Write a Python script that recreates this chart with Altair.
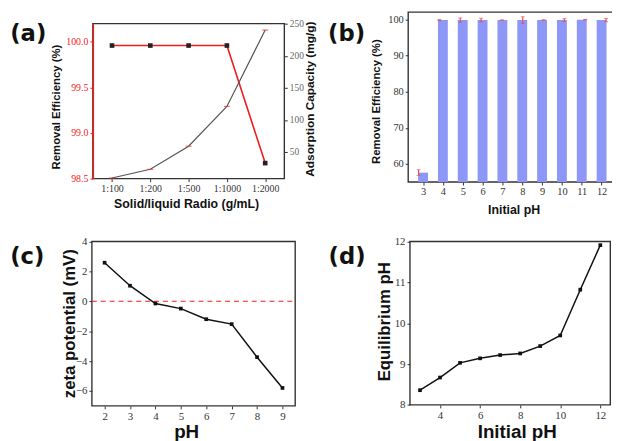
import altair as alt
import pandas as pd

W, H = 612, 433

# ---------------- data ----------------
ratios = ["1:100", "1:200", "1:500", "1:1000", "1:2000"]
eff_a = [99.96, 99.96, 99.96, 99.96, 98.67]
cap_a = [9.5, 23, 59, 121, 240]

ph_b = [3, 4, 5, 6, 7, 8, 9, 10, 11, 12]
eff_b = [57.6, 99.8, 99.8, 99.8, 99.8, 99.8, 99.8, 99.8, 99.9, 99.8]
err_b = [0.8, 0.15, 0.6, 0.5, 0.05, 0.9, 0.1, 0.4, 0.1, 0.45]

ph_c = [2, 3, 4, 5, 6, 7, 8, 9]
zeta_c = [2.58, 1.04, -0.15, -0.49, -1.2, -1.53, -3.74, -5.8]

ph_d = [3, 4, 5, 6, 7, 8, 9, 10, 11, 12]
eq_d = [8.36, 8.67, 9.03, 9.14, 9.22, 9.26, 9.44, 9.70, 10.82, 11.91]

dfA = pd.DataFrame({"ratio": ratios, "eff": eff_a, "cap": cap_a})
dfB = pd.DataFrame({"ph": ph_b, "eff": eff_b})
dfB["lo"] = dfB["eff"] - pd.Series(err_b)
dfB["hi"] = dfB["eff"] + pd.Series(err_b)
dfC = pd.DataFrame({"ph": ph_c, "zeta": zeta_c})
dfD = pd.DataFrame({"ph": ph_d, "eq": eq_d})
one = pd.DataFrame({"k": [0]})

# ---------------- layout (pixels inside the chart) ----------------
A = dict(x0=86, x1=280, y0=170, y1=13)
B = dict(x0=405.5, x1=616.5, y0=173.5, y1=1.3)
C = dict(x0=85, x1=291, y0=400.3, y1=233.7)
D = dict(x0=407.3, x1=610.3, y0=399.3, y1=233.7)

SERIF = "'Liberation Serif', 'Times New Roman', serif"
SANS = "'Liberation Sans', Arial, sans-serif"
RED = "#f01c1c"


def qs(domain, p, axis="y"):
    rng = [p["y0"], p["y1"]] if axis == "y" else [p["x0"], p["x1"]]
    return alt.Scale(domain=domain, range=rng, nice=False, zero=False)


def ax(orient, offset, **kw):
    base = dict(orient=orient, offset=offset, title=None, grid=False, domain=False,
                labelFont=SERIF, labelFontSize=10, labelColor="#333", tickColor="#333",
                tickSize=3, labelPadding=2, labelAngle=0)
    base.update(kw)
    return alt.Axis(**base)


def frame(p):
    return alt.Chart(one).mark_rect(fill="transparent", stroke="#333", strokeWidth=1.4).encode(
        x=alt.value(p["x0"]), x2=alt.value(p["x1"]), y=alt.value(p["y1"]), y2=alt.value(p["y0"]))


# ---------------- panel (a) ----------------
sxA = alt.Scale(type="point", domain=ratios, range=[A["x0"], A["x1"]], padding=0.5)
syA1 = qs([98.5, 100.2], A)
syA2 = qs([8.5, 250], A)

a_red = alt.Chart(dfA).mark_line(color=RED, strokeWidth=1.6).encode(
    x=alt.X("ratio:N", sort=ratios, scale=sxA,
            axis=ax("bottom", A["y0"] - H, labelFontSize=10)),
    y=alt.Y("eff:Q", scale=syA1,
            axis=ax("left", -A["x0"], values=[98.5, 99.0, 99.5, 100.0], format=".1f",
                    labelColor=RED, tickColor=RED, domain=True, domainColor=RED,
                    domainWidth=1.5, zindex=1)))
a_sq = alt.Chart(dfA).mark_point(shape="square", filled=True, color="#222", size=22, opacity=1).encode(
    x=alt.X("ratio:N", sort=ratios, scale=sxA, axis=None),
    y=alt.Y("eff:Q", scale=syA1, axis=None))
a_gray = alt.Chart(dfA).mark_line(color="#555", strokeWidth=1.2).encode(
    x=alt.X("ratio:N", sort=ratios, scale=sxA, axis=None),
    y=alt.Y("cap:Q", scale=syA2,
            axis=ax("right", A["x1"] - W, values=[50, 100, 150, 200, 250],
                    labelColor="#666", labelFontSize=9.5)))
a_tick = alt.Chart(dfA).mark_tick(color="#f03030", size=6, thickness=1.2, orient="horizontal").encode(
    x=alt.X("ratio:N", sort=ratios, scale=sxA, axis=None),
    y=alt.Y("cap:Q", scale=syA2, axis=None))

# ---------------- panel (b) ----------------
sxB = qs([2.5, 12.5], B, "x")
syB = qs([55, 102], B)
b_bar = alt.Chart(dfB).mark_bar(color="#8d97f7", size=10).encode(
    x=alt.X("ph:Q", scale=sxB,
            axis=ax("bottom", B["y0"] - H, values=ph_b, labelFontSize=10.5)),
    y=alt.Y("eff:Q", scale=syB,
            axis=ax("left", -B["x0"], values=[60, 70, 80, 90, 100], labelFontSize=10.5)),
    y2=alt.datum(55))
b_err = alt.Chart(dfB).mark_rule(color="#e4505c", strokeWidth=1.2).encode(
    x=alt.X("ph:Q", scale=sxB, axis=None),
    y=alt.Y("lo:Q", scale=syB, axis=None), y2="hi:Q")
b_cap_hi = alt.Chart(dfB).mark_tick(color="#e4505c", size=4, thickness=1, orient="horizontal").encode(
    x=alt.X("ph:Q", scale=sxB, axis=None), y=alt.Y("hi:Q", scale=syB, axis=None))
b_cap_lo = alt.Chart(dfB).mark_tick(color="#e4505c", size=4, thickness=1, orient="horizontal").encode(
    x=alt.X("ph:Q", scale=sxB, axis=None), y=alt.Y("lo:Q", scale=syB, axis=None))

# ---------------- panel (c) ----------------
sxC = qs([1.5, 9.5], C, "x")
syC = qs([-7, 4], C)
c_zero = alt.Chart(one).mark_rule(color=RED, strokeDash=[5, 4], strokeWidth=1.2).encode(
    x=alt.XDatum(1.5, scale=sxC, axis=None), x2=alt.X2Datum(9.5),
    y=alt.YDatum(0, scale=syC, axis=None))
c_line = alt.Chart(dfC).mark_line(color="#111", strokeWidth=1.5).encode(
    x=alt.X("ph:Q", scale=sxC,
            axis=ax("bottom", C["y0"] - H, values=ph_c, labelFontSize=11)),
    y=alt.Y("zeta:Q", scale=syC,
            axis=ax("left", -C["x0"], values=[-6, -4, -2, 0, 2, 4], labelFontSize=11)))
c_sq = alt.Chart(dfC).mark_point(shape="square", filled=True, color="#111", size=14, opacity=1).encode(
    x=alt.X("ph:Q", scale=sxC, axis=None), y=alt.Y("zeta:Q", scale=syC, axis=None))

# ---------------- panel (d) ----------------
sxD = qs([2.5, 12.5], D, "x")
syD = qs([8, 12], D)
d_line = alt.Chart(dfD).mark_line(color="#111", strokeWidth=1.5).encode(
    x=alt.X("ph:Q", scale=sxD,
            axis=ax("bottom", D["y0"] - H, values=[4, 6, 8, 10, 12], labelFontSize=11)),
    y=alt.Y("eq:Q", scale=syD,
            axis=ax("left", -D["x0"], values=[8, 9, 10, 11, 12], labelFontSize=11)))
d_sq = alt.Chart(dfD).mark_point(shape="square", filled=True, color="#111", size=14, opacity=1).encode(
    x=alt.X("ph:Q", scale=sxD, axis=None), y=alt.Y("eq:Q", scale=syD, axis=None))


# ---------------- texts ----------------
def txt(s, x, y, size, angle=0, font=SANS, color="#111"):
    kw = dict(text=s, font=font, fontSize=size, fontWeight="bold", align="center",
              baseline="middle", color=color)
    if angle:
        kw["angle"] = angle
    return alt.Chart(one).mark_text(**kw).encode(x=alt.value(x), y=alt.value(y))


texts = [
    txt("(a)", 20.5, 23.5, 23, font="DejaVu Sans"),
    txt("(b)", 343, 23.5, 23, font="DejaVu Sans"),
    txt("(c)", 19.5, 249.5, 23, font="DejaVu Sans"),
    txt("(d)", 343.5, 249.5, 23, font="DejaVu Sans"),
    txt("Solid/liquid Radio (g/mL)", 181, 195.5, 12.5),
    txt("Removal Efficiency (%)", 50, 97.5, 11.5, angle=270),
    txt("Adsorption Capacity (mg/g)", 306, 89.5, 12, angle=270),
    txt("Removal Efficiency (%)", 373.7, 92, 11.5, angle=270),
    txt("Initial pH", 512.8, 202, 12.5),
    txt("zeta potential (mV)", 63, 317, 17, angle=270),
    txt("pH", 181, 427, 19),
    txt("Equilibrium pH", 382, 315, 17, angle=270),
    txt("Initial pH", 516, 427, 19),
]

layers = [frame(A), a_red, a_sq, a_gray, a_tick,
          frame(B), b_bar, b_err, b_cap_hi, b_cap_lo,
          frame(C), c_zero, c_line, c_sq,
          frame(D), d_line, d_sq] + texts

chart = alt.layer(*layers).resolve_scale(
    x="independent", y="independent"
).resolve_axis(
    x="independent", y="independent"
).properties(
    width=W, height=H, autosize=alt.AutoSizeParams(type="none"), padding=0
).configure_view(stroke=None).configure_axis(grid=False)

chart.save("out.html", embed_options={"renderer": "svg", "actions": False})
